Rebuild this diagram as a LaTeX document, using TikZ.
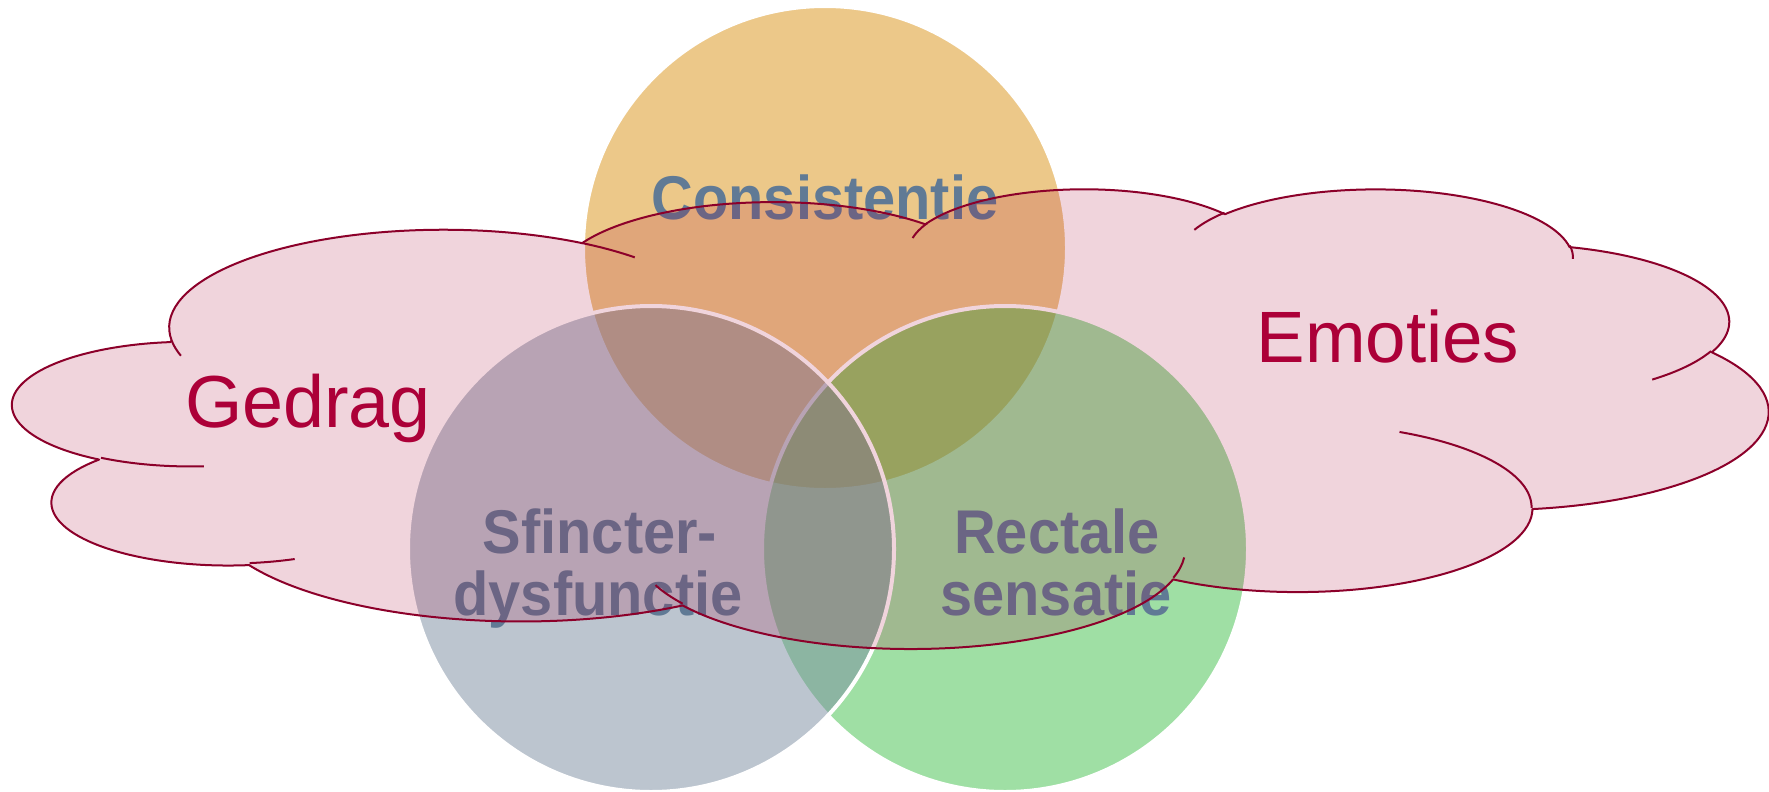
\documentclass[tikz,border=0pt]{standalone}
\usepackage{fontspec}
\setmainfont{Liberation Sans}
\definecolor{cloudfill}{RGB}{167,0,49}
\definecolor{cloudline}{RGB}{140,0,42}
\definecolor{cloudtext}{RGB}{172,0,56}
\definecolor{ctext}{RGB}{96,122,149}
\definecolor{corange}{RGB}{219,147,21}
\definecolor{cblue}{RGB}{123,141,161}
\definecolor{cgreen}{RGB}{65,193,75}
% arcTo with visual angles (DrawingML) -> parametric start angle and sweep
\newcommand\setarc[5]{%
  \pgfmathsetmacro\tmpS{atan2((#2)*sin(#4),(#3)*cos(#4))}%
  \pgfmathsetmacro\tmpE{atan2((#2)*sin((#4)+(#5)),(#3)*cos((#4)+(#5)))}%
  \pgfmathsetmacro\tmpD{mod(\tmpE-\tmpS+720,360)}%
  \expandafter\xdef\csname #1S\endcsname{\tmpS}%
  \expandafter\xdef\csname #1D\endcsname{\tmpD}%
}
\newcommand\narrowtxt[1]{\scalebox{0.935}[1]{#1}}
\setarc{cA}{67.53}{91.90}{-190.4875}{123.7805}
\setarc{cB}{53.33}{72.67}{-144.1024}{89.9452}
\setarc{cC}{43.65}{59.45}{-145.8079}{99.7230}
\setarc{cD}{48.57}{65.95}{-130.9861}{117.2417}
\setarc{cE}{53.33}{72.73}{-78.7089}{109.0269}
\setarc{cF}{67.75}{92.20}{-46.2673}{130.2690}
\setarc{cG}{57.85}{78.67}{0.6250}{114.0333}
\setarc{cH}{67.52}{92.15}{22.4516}{115.1726}
\setarc{cI}{77.20}{105.43}{66.2426}{75.7110}
\setarc{cJ}{43.60}{59.18}{-274.9421}{146.7356}
\setarc{cK}{43.45}{59.45}{-246.8285}{152.5189}
\setarc{tA}{43.45}{59.45}{86.7420}{26.4295}
\setarc{tB}{43.60}{59.18}{73.6105}{11.4475}
\setarc{tC}{67.52}{92.15}{137.6242}{14.0811}
\setarc{tD}{67.52}{92.15}{6.4533}{15.9984}
\setarc{tE}{57.85}{78.67}{-70.2924}{70.9174}
\setarc{tF}{53.33}{72.73}{30.3180}{27.7515}
\setarc{tG}{48.57}{65.95}{-13.7443}{14.8589}
\setarc{tH}{48.57}{65.95}{-149.1815}{18.1954}
\setarc{tI}{43.65}{59.45}{-163.4943}{17.6864}
\setarc{tJ}{67.53}{91.90}{-66.7070}{12.3194}
\setarc{tK}{67.53}{91.90}{157.6544}{11.8582}
\begin{document}
\begin{tikzpicture}[x=1bp,y=-1bp,
  venn/.style={draw=white, line width=4bp, fill opacity=0.5},
  vlabel/.style={anchor=base, inner sep=0pt, text=ctext,
    font=\fontsize{62}{66}\selectfont\bfseries},
  clabel/.style={anchor=base, inner sep=0pt, text=cloudtext,
    font=\fontsize{74}{80}\selectfont},
  cloudedge/.style={draw=cloudline, line width=2bp, line join=round}]
\useasboundingbox[fill=white] (0,0) rectangle (1769,792);
% circles
\path[venn, fill=corange] (825,248) circle[radius=242];
\path[venn, fill=cgreen] (1005,549) circle[radius=243];
\path[venn, fill=cblue] (651,549) circle[radius=243];
\node[vlabel] (cons) at (825,219) {\narrowtxt{Consistentie}};
\node[vlabel] (sf1) at (600,553) {\narrowtxt{Sfincter-}};
\node[vlabel] (sf2) at (598,615) {\narrowtxt{dysfunctie}};
\node[vlabel] (re1) at (1057,553) {\narrowtxt{Rectale}};
\node[vlabel] (re2) at (1056,615) {\narrowtxt{sensatie}};
% cloud
\begin{scope}[shift={(13.3,187.8)}, x=4.0616bp, y=-1.0637bp]
\path[cloudedge, fill=cloudfill, fill opacity=0.17] (39.00,143.70)
  arc[start angle=\cAS, delta angle=\cAD, x radius=67.53, y radius=91.90]
  arc[start angle=\cBS, delta angle=\cBD, x radius=53.33, y radius=72.67]
  arc[start angle=\cCS, delta angle=\cCD, x radius=43.65, y radius=59.45]
  arc[start angle=\cDS, delta angle=\cDD, x radius=48.57, y radius=65.95]
  arc[start angle=\cES, delta angle=\cED, x radius=53.33, y radius=72.73]
  arc[start angle=\cFS, delta angle=\cFD, x radius=67.75, y radius=92.20]
  arc[start angle=\cGS, delta angle=\cGD, x radius=57.85, y radius=78.67]
  arc[start angle=\cHS, delta angle=\cHD, x radius=67.52, y radius=92.15]
  arc[start angle=\cIS, delta angle=\cID, x radius=77.20, y radius=105.43]
  arc[start angle=\cJS, delta angle=\cJD, x radius=43.60, y radius=59.18]
  arc[start angle=\cKS, delta angle=\cKD, x radius=43.45, y radius=59.45]
  -- cycle;
\draw[cloudedge] (46.93,261.77) arc[start angle=\tAS, delta angle=\tAD, x radius=43.45, y radius=59.45];
\draw[cloudedge] (69.28,348.99) arc[start angle=\tBS, delta angle=\tBD, x radius=43.60, y radius=59.18];
\draw[cloudedge] (164.78,390.90) arc[start angle=\tCS, delta angle=\tCD, x radius=67.52, y radius=92.15];
\draw[cloudedge] (288.27,347.51) arc[start angle=\tDS, delta angle=\tDD, x radius=67.52, y radius=92.15];
\draw[cloudedge] (341.29,229.54) arc[start angle=\tES, delta angle=\tED, x radius=57.85, y radius=78.67];
\draw[cloudedge] (417.98,153.54) arc[start angle=\tFS, delta angle=\tFD, x radius=53.33, y radius=72.73];
\draw[cloudedge] (383.24,54.26) arc[start angle=\tGS, delta angle=\tGD, x radius=48.57, y radius=65.95];
\draw[cloudedge] (290.78,39.52) arc[start angle=\tHS, delta angle=\tHD, x radius=48.57, y radius=65.95];
\draw[cloudedge] (221.41,47.20) arc[start angle=\tIS, delta angle=\tID, x radius=43.65, y radius=59.45];
\draw[cloudedge] (140.00,51.92) arc[start angle=\tJS, delta angle=\tJD, x radius=67.53, y radius=91.90];
\draw[cloudedge] (41.27,157.89) arc[start angle=\tKS, delta angle=\tKD, x radius=67.53, y radius=91.90];
\end{scope}
\node[clabel] (gedrag) at (308,427) {Gedrag};
\node[clabel, font=\fontsize{73}{80}\selectfont] (emoties) at (1388,362) {Emoties};
\end{tikzpicture}
\end{document}
